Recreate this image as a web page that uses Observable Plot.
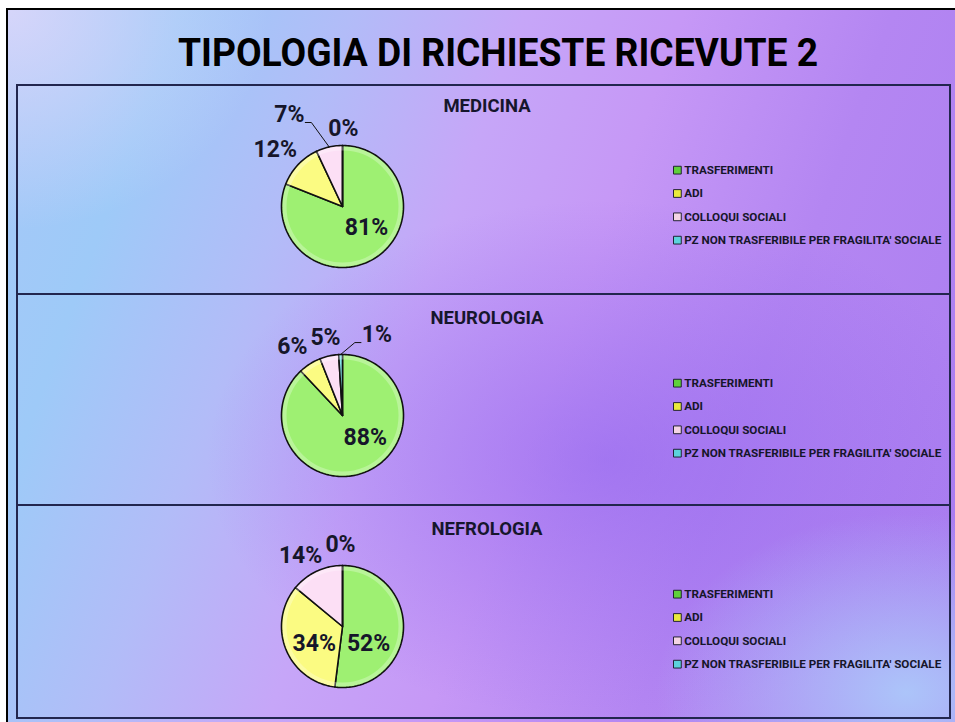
<!DOCTYPE html>
<html>
<head>
<meta charset="utf-8">
<script src="https://cdn.jsdelivr.net/npm/d3@7"></script>
<script src="https://cdn.jsdelivr.net/npm/@observablehq/plot@0.6"></script>
<style>
  html, body { margin: 0; padding: 0; background: #fff; width: 955px; height: 722px; overflow: hidden; }
  body { position: relative; font-family: Roboto, "Liberation Sans", sans-serif; }
  #frame {
    position: absolute; left: 6px; top: 8px; width: 970px; height: 730px;
    border: 2px solid #000; box-sizing: border-box;
    background:
      radial-gradient(ellipse 250px 180px at 93% 94%, rgba(172,200,250,0.95) 0%, rgba(172,200,250,0) 100%),
      radial-gradient(ellipse 400px 260px at 62% 62%, rgba(140,96,238,0.55) 0%, rgba(140,96,238,0) 100%),
      radial-gradient(ellipse 260px 220px at 0% 0%, rgba(216,214,250,0.95) 0%, rgba(216,214,250,0) 100%),
      linear-gradient(110deg, #a6c8f8 0%, #9ecaf8 14%, #b2bcf8 28%, #c6a6f8 42%, #c698f6 55%, #b486f2 72%, #a87cf0 100%);
  }
  #title {
    position: absolute; top: 30px; left: 0; white-space: nowrap;
    font-family: Roboto, sans-serif; font-weight: 700; font-size: 39px; color: #000;
    transform-origin: 0 0;
  }
  .panel { position: absolute; left: 16px; width: 935px; border: 2px solid #22264e; box-sizing: border-box; }
  .ptitle {
    position: absolute; white-space: nowrap; font-family: Roboto, sans-serif; font-weight: 700;
    font-size: 18.5px; color: #16162c; transform: translate(-50%, -50%);
  }
  .abs { position: absolute; }
  .abs svg { overflow: visible; display: block; }
</style>
</head>
<body>
<div id="frame"></div>
<div id="title">TIPOLOGIA DI RICHIESTE RICEVUTE 2</div>
<div id="panels"></div>
<script>
// ---------------- DATA ----------------
const categories = ["TRASFERIMENTI", "ADI", "COLLOQUI SOCIALI", "PZ NON TRASFERIBILE PER FRAGILITA' SOCIALE"];
const departments = ["MEDICINA", "NEUROLOGIA", "NEFROLOGIA"];
const medicinaValues = [81, 12, 7, 0];
const neurologiaValues = [88, 6, 5, 1];
const nefrologiaValues = [52, 34, 14, 0];
const seriesValues = [medicinaValues, neurologiaValues, nefrologiaValues];

// ---------------- STYLE / LAYOUT ----------------
const sliceColors = ["#9ef072", "#fbfb82", "#fcdff5", "#84e4ea"];
const legendColors = ["#5fd03c", "#eaea3c", "#f4d4e4", "#5cd2dc"];
const panelTops = [84, 293, 504];
const panelHeights = [211, 213, 215];
const pieCenterX = 342, pieOffsetY = 122, pieR = 61, half = 120;
const titleOffsetY = 22;
const legendLeft = 673, legendOffsetY = 74;
// label placement: [angle shift from slice mid-angle (deg), radius in pie radii]
const labelPlacement = [
  [[-14.8, 0.52], [-3.2, 1.44], [-17.4, 1.74], [0.7, 1.28]],
  [[-24.4, 0.52], [-3.6, 1.40], [0.3, 1.31], [24.8, 1.44]],
  [[29.4, 0.51], [-9.4, 0.54], [-5.4, 1.35], [-1.4, 1.34]]
];
const leaderLabel = [2, 3, -1];

// ---------------- TITLE ----------------
const titleEl = document.getElementById("title");
const tw = titleEl.getBoundingClientRect().width;
const targetW = 640;
titleEl.style.left = (498 - targetW / 2) + "px";
titleEl.style.transform = `scaleX(${targetW / tw})`;

const panelsEl = document.getElementById("panels");
const rad = Math.PI / 180;

departments.forEach((dept, p) => {
  const top = panelTops[p];
  const panel = document.createElement("div");
  panel.className = "panel";
  panel.style.top = top + "px";
  panel.style.height = panelHeights[p] + "px";
  panelsEl.appendChild(panel);

  const t = document.createElement("div");
  t.className = "ptitle";
  t.textContent = dept;
  t.style.left = "487px";
  t.style.top = (top + titleOffsetY + (p ? 3 : 0)) + "px";
  panelsEl.appendChild(t);

  const values = seriesValues[p];
  const rows = values.map((v, i) => ({cat: categories[i], value: v}));
  const arcs = d3.pie().sort(null).value(d => d.value)(rows);
  const pts = [];
  arcs.forEach(a => {
    const cat = a.data.cat;
    pts.push({cat, x: 0, y: 0});
    const n = Math.max(2, Math.ceil((a.endAngle - a.startAngle) / (Math.PI / 120)));
    for (let k = 0; k <= n; k++) {
      const ang = a.startAngle + (a.endAngle - a.startAngle) * k / n;
      pts.push({cat, x: Math.sin(ang), y: Math.cos(ang)});
    }
    pts.push({cat, x: 0, y: 0});
  });
  const labels = arcs.map((a, i) => {
    const mid = (a.startAngle + a.endAngle) / 2 + labelPlacement[p][i][0] * rad;
    const r = labelPlacement[p][i][1];
    return {text: a.data.value + "%", x: r * Math.sin(mid), y: r * Math.cos(mid), mid: (a.startAngle + a.endAngle) / 2};
  });
  const leader = [];
  if (leaderLabel[p] >= 0) {
    const L = labels[leaderLabel[p]];
    const dir = L.x < 0 ? 1 : -1;
    const sx = L.x + dir * 0.26, sy = L.y - 0.13;
    leader.push({x: sx, y: sy});
    leader.push({x: sx + dir * 0.1, y: sy});
    leader.push({x: Math.sin(L.mid), y: Math.cos(L.mid)});
  }

  const pie = Plot.plot({
    width: 2 * half, height: 2 * half, margin: 0,
    x: {domain: [-half / pieR, half / pieR], axis: null},
    y: {domain: [-half / pieR, half / pieR], axis: null},
    color: {domain: categories, range: sliceColors},
    style: {background: "transparent", fontFamily: "Roboto, sans-serif", overflow: "visible"},
    marks: [
      Plot.line(pts, {x: "x", y: "y", z: "cat", fill: "cat", stroke: "#111", strokeWidth: 1.6, strokeLinejoin: "round"}),
      Plot.dot([{x: 0, y: 0}], {x: "x", y: "y", r: pieR - 3, fill: "none", stroke: "white", strokeOpacity: 0.28, strokeWidth: 4}),
      Plot.line(leader, {x: "x", y: "y", stroke: "#111", strokeWidth: 1}),
      Plot.text(labels, {x: "x", y: "y", text: "text", fontSize: 23, fontWeight: "bold", fill: "#16162a"})
    ]
  });
  const pieWrap = document.createElement("div");
  pieWrap.className = "abs";
  pieWrap.style.left = (pieCenterX - half) + "px";
  pieWrap.style.top = (top + pieOffsetY - half) + "px";
  pieWrap.appendChild(pie);
  panelsEl.appendChild(pieWrap);

  const legend = Plot.plot({
    width: 290, height: 96, margin: 0,
    x: {domain: [0, 1], axis: null},
    y: {type: "point", domain: categories, range: [12, 84], padding: 0, axis: null},
    color: {domain: categories, range: legendColors},
    style: {background: "transparent", fontFamily: "Roboto, sans-serif", overflow: "visible"},
    marks: [
      Plot.dot(categories, {y: d => d, frameAnchor: "left", dx: 4, symbol: "square", r: 4.5, fill: d => d, stroke: "#1e1e2e", strokeWidth: 1}),
      Plot.text(categories, {y: d => d, frameAnchor: "left", dx: 11, text: d => d, textAnchor: "start", fontSize: 12, fontWeight: "bold", fill: "#16162a"})
    ]
  });
  const legWrap = document.createElement("div");
  legWrap.className = "abs";
  legWrap.style.left = legendLeft + "px";
  legWrap.style.top = (top + legendOffsetY + (p ? 4 : 0)) + "px";
  legWrap.appendChild(legend);
  panelsEl.appendChild(legWrap);
});
</script>
</body>
</html>
